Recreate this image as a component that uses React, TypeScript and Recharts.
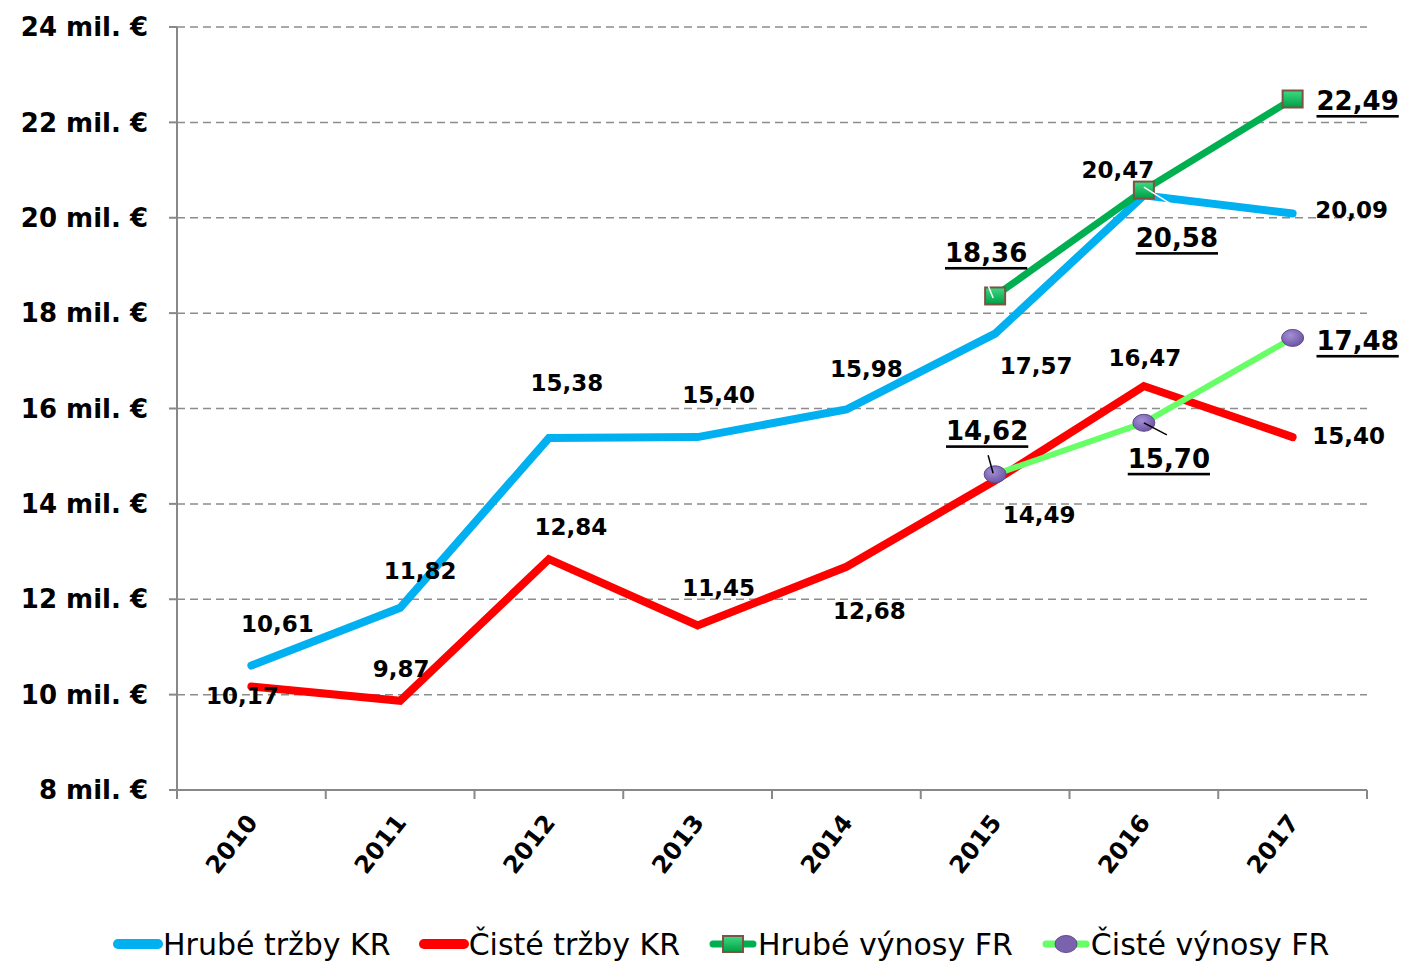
import { LineChart, Line, XAxis, YAxis, CartesianGrid, Legend, LabelList } from 'recharts';

const years = ['2010', '2011', '2012', '2013', '2014', '2015', '2016', '2017'];
const hrubeTrzbyKR = [10.61, 11.82, 15.38, 15.4, 15.98, 17.57, 20.47, 20.09];
const cisteTrzbyKR = [10.17, 9.87, 12.84, 11.45, 12.68, 14.49, 16.47, 15.4];
const hrubeVynosyFR = [null, null, null, null, null, 18.36, 20.58, 22.49];
const cisteVynosyFR = [null, null, null, null, null, 14.62, 15.7, 17.48];
const yTicks = [8, 10, 12, 14, 16, 18, 20, 22, 24];

const seriesNames = ['Hrubé tržby KR', 'Čisté tržby KR', 'Hrubé výnosy FR', 'Čisté výnosy FR'];

// label placement (dx, dy from the point) — picked by eye
const blueOffsets = [[26, -42], [20, -37], [18, -55], [21, -42], [20, -40], [41, 32], [-26, -25], [59, -3]];
const redOffsets = [[-9, 9], [1, -32], [22, -32], [21, -37], [23, 44], [44, 34], [1, -28], [56, -1]];
const greenOffsets = [null, null, null, null, null, [-9, -43], [33, 48], [65, 2]];
const lightOffsets = [null, null, null, null, null, [-8, -43], [25, 36], [65, 3]];
const greenLeaders = [null, null, null, null, null, [-10, -18, -2, 2], [0, -3, 32, 17], null];
const lightLeaders = [null, null, null, null, null, [-7, -19, -2, -1], [0, 0, 23, 12], null];

const W = 1404;
const H = 965;
const PLOT_W = 1190;
const BAND = PLOT_W / years.length;
const FONT = 'DejaVu Sans';

const data = years.map((year, i) => ({
  year,
  hrubeKR: hrubeTrzbyKR[i],
  cisteKR: cisteTrzbyKR[i],
  hrubeFR: hrubeVynosyFR[i],
  cisteFR: cisteVynosyFR[i],
}));

const fmt = (v: number) => v.toFixed(2).replace('.', ',');

const makeLabel =
  (offsets: (number[] | null)[], big: boolean, leaders?: (number[] | null)[], leaderColor = '#000') =>
  (props: any) => {
    const { x, y, value, index } = props;
    if (value == null || x == null || y == null) return null;
    const off = offsets[index];
    if (!off) return null;
    const ld = leaders ? leaders[index] : null;
    return (
      <g key={`lbl-${index}`}>
        {ld && (
          <line
            x1={x + ld[0]}
            y1={y + ld[1]}
            x2={x + ld[2]}
            y2={y + ld[3]}
            stroke={leaderColor}
            strokeWidth={1.5}
          />
        )}
        <text
          x={x + off[0]}
          y={y + off[1]}
          textAnchor="middle"
          dominantBaseline="central"
          fontFamily={FONT}
          fontWeight="bold"
          fontSize={big ? 26 : 23}
          fill="#000"
          textDecoration={big ? 'underline' : undefined}
        >
          {fmt(Number(value))}
        </text>
      </g>
    );
  };

const SquareDot = (props: any) => {
  const { cx, cy, value, index } = props;
  if (value == null || cx == null || cy == null) return <g key={`sq-${index}`} />;
  return (
    <rect
      key={`sq-${index}`}
      x={cx - 10}
      y={cy - 8.5}
      width={20}
      height={17}
      fill="url(#sqFill)"
      stroke="#7d5444"
      strokeWidth={2}
    />
  );
};

const RoundDot = (props: any) => {
  const { cx, cy, value, index } = props;
  if (value == null || cx == null || cy == null) return <g key={`rd-${index}`} />;
  return (
    <ellipse
      key={`rd-${index}`}
      cx={cx}
      cy={cy}
      rx={11}
      ry={8.5}
      fill="url(#dotFill)"
      stroke="#5f4a8c"
      strokeWidth={1}
    />
  );
};

const XTick = (props: any) => {
  const { x, y, payload, index } = props;
  const last = index === years.length - 1;
  return (
    <g>
      <line x1={x - BAND / 2} y1={y} x2={x - BAND / 2} y2={y + 9} stroke="#888" strokeWidth={2} />
      {last && <line x1={x + BAND / 2} y1={y} x2={x + BAND / 2} y2={y + 9} stroke="#888" strokeWidth={2} />}
      <text
        x={0}
        y={0}
        transform={`translate(${x + 1},${y + 28}) rotate(-52)`}
        textAnchor="end"
        dominantBaseline="central"
        fontFamily={FONT}
        fontWeight="bold"
        fontSize={24}
        fill="#000"
      >
        {payload.value}
      </text>
    </g>
  );
};

const LegendIcon = ({ idx }: { idx: number }) => {
  const colors = ['#00B0F0', '#FF0000', '#00B050', '#66FF66'];
  return (
    <svg width={50} height={20} style={{ display: 'block' }}>
      <line x1={5} y1={10} x2={45} y2={10} stroke={colors[idx]} strokeWidth={idx < 2 ? 10 : 7} strokeLinecap="round" />
      {idx === 2 && <rect x={15} y={2} width={20} height={16} fill="url(#sqFill)" stroke="#7d5444" strokeWidth={2} />}
      {idx === 3 && <ellipse cx={25} cy={10} rx={11} ry={8.5} fill="#7a62ad" stroke="#5f4a8c" />}
    </svg>
  );
};

const LegendContent = () => (
  <div
    style={{
      width: W,
      height: 42,
      display: 'flex',
      alignItems: 'center',
      paddingLeft: 113,
      boxSizing: 'border-box',
    }}
  >
    {seriesNames.map((name, i) => (
      <div key={name} style={{ display: 'flex', alignItems: 'center', marginRight: 28 }}>
        <LegendIcon idx={i} />
        <span style={{ fontFamily: FONT, fontSize: 30, color: '#000', whiteSpace: 'nowrap' }}>{name}</span>
      </div>
    ))}
  </div>
);

export default function App() {
  return (
    <div style={{ position: 'absolute', left: 0, top: 0, width: W, height: H, background: '#fff' }}>
      <LineChart width={W} height={H} data={data} margin={{ top: 27, right: 37, left: 7, bottom: 0 }}>
        <defs>
          <linearGradient id="sqFill" x1="0" y1="0" x2="0" y2="1">
            <stop offset="0%" stopColor="#3ddc84" />
            <stop offset="100%" stopColor="#009e45" />
          </linearGradient>
          <radialGradient id="dotFill" cx="40%" cy="35%" r="70%">
            <stop offset="0%" stopColor="#a48fd6" />
            <stop offset="100%" stopColor="#6a52a0" />
          </radialGradient>
        </defs>
        <CartesianGrid vertical={false} stroke="#8c8c8c" strokeWidth={1.5} strokeDasharray="8 5" />
        <XAxis
          dataKey="year"
          interval={0}
          height={133}
          padding={{ left: BAND / 2, right: BAND / 2 }}
          tickSize={0}
          tickMargin={0}
          tickLine={false}
          axisLine={{ stroke: '#888', strokeWidth: 2 }}
          tick={<XTick />}
        />
        <YAxis
          domain={[8, 24]}
          ticks={yTicks}
          width={170}
          tickSize={8}
          tickMargin={21}
          axisLine={{ stroke: '#888', strokeWidth: 2 }}
          tickLine={{ stroke: '#888', strokeWidth: 2 }}
          tickFormatter={(v: number) => `${v} mil. €`}
          tick={{ fill: '#000', fontSize: 26, fontWeight: 'bold', fontFamily: FONT }}
        />
        <Legend verticalAlign="bottom" wrapperStyle={{ left: 0, bottom: 0 }} content={<LegendContent />} />
        <Line
          dataKey="hrubeKR"
          name={seriesNames[0]}
          stroke="#00B0F0"
          strokeWidth={8}
          strokeLinecap="round"
          dot={false}
          activeDot={false}
          isAnimationActive={false}
        >
          <LabelList dataKey="hrubeKR" content={makeLabel(blueOffsets, false)} />
        </Line>
        <Line
          dataKey="cisteKR"
          name={seriesNames[1]}
          stroke="#FF0000"
          strokeWidth={8}
          strokeLinecap="round"
          dot={false}
          activeDot={false}
          isAnimationActive={false}
        >
          <LabelList dataKey="cisteKR" content={makeLabel(redOffsets, false)} />
        </Line>
        <Line
          dataKey="hrubeFR"
          name={seriesNames[2]}
          stroke="#00B050"
          strokeWidth={7}
          dot={SquareDot}
          activeDot={false}
          isAnimationActive={false}
        >
          <LabelList dataKey="hrubeFR" content={makeLabel(greenOffsets, true, greenLeaders, '#fff')} />
        </Line>
        <Line
          dataKey="cisteFR"
          name={seriesNames[3]}
          stroke="#66FF66"
          strokeWidth={6}
          dot={RoundDot}
          activeDot={false}
          isAnimationActive={false}
        >
          <LabelList dataKey="cisteFR" content={makeLabel(lightOffsets, true, lightLeaders)} />
        </Line>
      </LineChart>
    </div>
  );
}
